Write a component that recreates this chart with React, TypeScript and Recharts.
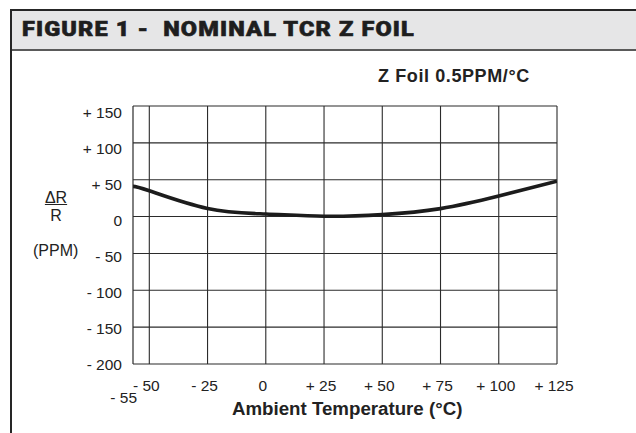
import { LineChart, Line, XAxis, YAxis, ReferenceLine } from "recharts";

const temps = [-57, -50, -25, 0, 25, 50, 75, 100, 125];
const deltaR = [41, 35, 11, 3.5, 0.4, 2.7, 10.8, 27.8, 48];
const xTicks = [-55, -50, -25, 0, 25, 50, 75, 100, 125];
const yTicks = [-200, -150, -100, -50, 0, 50, 100, 150];

const data = temps.map((t, i) => ({ t, r: deltaR[i] }));

const fmt = (v: number) => (v > 0 ? `+ ${v}` : v < 0 ? `- ${-v}` : "0");

const font = "'Liberation Sans', Arial, sans-serif";
const grid = "#2b2b2b";

const XTick = (props: any) => {
  const { x, y, payload } = props;
  const v = payload.value;
  const low = v === -55;
  return (
    <text
      x={low ? x - 14 : x - 3}
      y={low ? y + 25.5 : y + 13}
      textAnchor="middle"
      dominantBaseline="central"
      fontSize={15.5}
      fill="#222"
      fontFamily={font}
    >
      {fmt(v)}
    </text>
  );
};

const YTick = (props: any) => {
  const { x, y, payload } = props;
  // labels in the original drift a little below their gridlines towards the top
  const drift = (payload.value + 200) * 0.019;
  return (
    <text x={x} y={y + drift} textAnchor="end" dominantBaseline="central" fontSize={15.5} fill="#222" fontFamily={font}>
      {fmt(payload.value)}
    </text>
  );
};

export default function App() {
  return (
    <div style={{ position: "absolute", left: 0, top: 0, width: 636, height: 433, background: "#fff", overflow: "hidden", fontFamily: font }}>
      <div style={{ position: "absolute", left: 10, top: 9, width: 640, height: 38, background: "#e6e6e7", borderTop: "2px solid #262626", borderLeft: "2px solid #262626", borderBottom: "2px solid #5a5a5a" }} />
      <div style={{ position: "absolute", left: 10, top: 49, width: 2, height: 400, background: "#262626" }} />
      <div
        style={{
          position: "absolute",
          left: 22,
          top: 14,
          fontFamily: "Roboto, sans-serif",
          fontWeight: 900,
          fontSize: 21,
          letterSpacing: 1,
          color: "#1e1e1e",
          lineHeight: "30px",
          whiteSpace: "pre",
          transform: "scaleX(1.12)",
          transformOrigin: "0 0",
          WebkitTextStroke: "0.6px #1e1e1e",
        }}
      >
        FIGURE 1 -  NOMINAL TCR Z FOIL
      </div>
      <div style={{ position: "absolute", left: 378, top: 65, fontWeight: 700, fontSize: 18, letterSpacing: 0.6, color: "#222", lineHeight: "22px", whiteSpace: "pre" }}>
        Z Foil 0.5PPM/°C
      </div>
      <div style={{ position: "absolute", left: 40, top: 189, width: 32, textAlign: "center", fontSize: 16, color: "#222", lineHeight: "18px" }}>
        <div style={{ textDecoration: "underline" }}>ΔR</div>
        <div>R</div>
      </div>
      <div style={{ position: "absolute", left: 33, top: 242, fontSize: 16, color: "#222", lineHeight: "18px" }}>(PPM)</div>
      <div style={{ position: "absolute", left: 232, top: 398, fontWeight: 700, fontSize: 18.7, color: "#222", lineHeight: "22px", whiteSpace: "pre" }}>
        Ambient Temperature (°C)
      </div>
      <div style={{ position: "absolute", left: 0, top: 0 }}>
        <LineChart width={636} height={433} data={data} margin={{ top: 106, left: 73, right: 79, bottom: 39 }}>
          <XAxis
            dataKey="t"
            type="number"
            domain={[-57, 125]}
            ticks={xTicks}
            tick={<XTick />}
            axisLine={{ stroke: grid, strokeWidth: 1.2 }}
            tickLine={false}
            height={30}
            interval={0}
            allowDataOverflow
          />
          <YAxis
            type="number"
            domain={[-200, 150]}
            ticks={yTicks}
            tick={<YTick />}
            axisLine={{ stroke: grid, strokeWidth: 1.2 }}
            tickLine={false}
            tickSize={0}
            tickMargin={11}
            width={60}
            interval={0}
          />
          {xTicks
            .filter((v) => v !== -55)
            .map((v) => (
              <ReferenceLine key={`x${v}`} x={v} stroke={grid} strokeWidth={1.1} />
            ))}
          {yTicks
            .filter((v) => v !== -200)
            .map((v) => (
              <ReferenceLine key={`y${v}`} y={v} stroke={grid} strokeWidth={1.1} />
            ))}
          <Line dataKey="r" type="natural" stroke="#1c1c1c" strokeWidth={3.6} dot={false} isAnimationActive={false} />
        </LineChart>
      </div>
    </div>
  );
}
